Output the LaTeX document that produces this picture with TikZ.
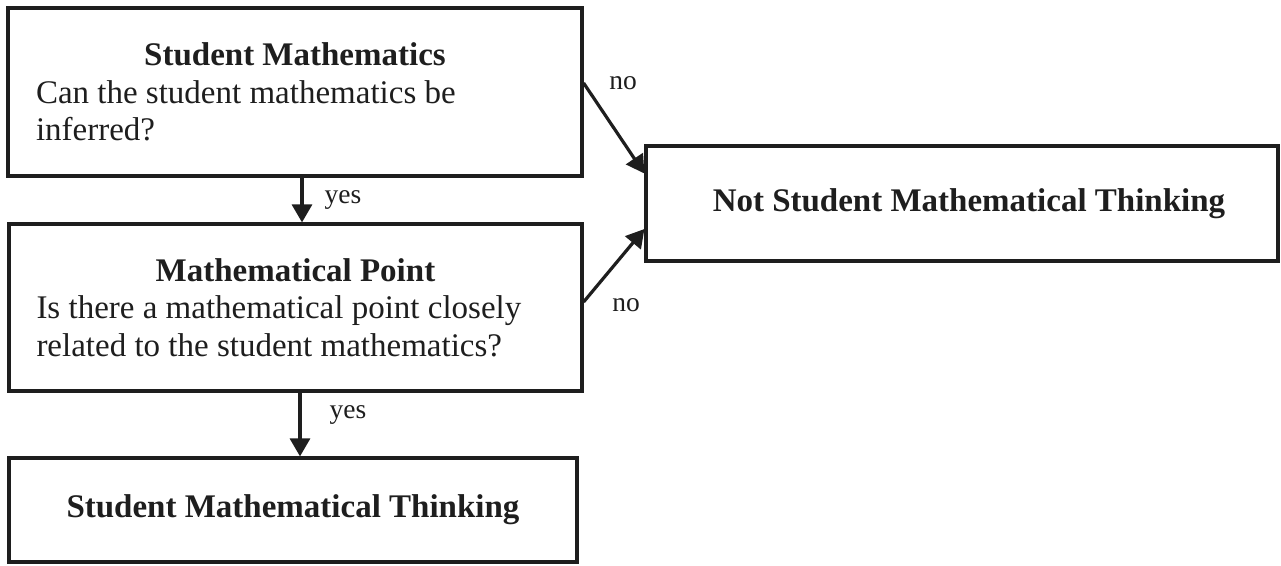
\documentclass[tikz,border=0pt]{standalone}
\usepackage{fontspec}
\setmainfont{Liberation Serif}
\usetikzlibrary{arrows.meta}
\definecolor{ink}{HTML}{1E1E1E}
\newcommand{\fixspc}{\spaceskip=0.25em\relax\xspaceskip=0.25em\relax}
\begin{document}
\begin{tikzpicture}[x=1pt,y=-1pt,
  box/.style={draw=ink, line width=3.2pt, inner sep=0pt, text=ink, font=\fontsize{33}{37.5}\selectfont},
  arr/.style={draw=ink, line width=3.2pt, -{Triangle[length=18pt,width=20pt]}},
  lbl/.style={text=ink, font=\fontsize{27.5}{30}\selectfont, inner sep=0pt}]
\useasboundingbox (0,0) rectangle (1281,565);
\node[box, minimum width=574pt, minimum height=168pt, text width=518pt, align=left] (sm) at (295,92)
  {\fixspc\makebox[\hsize][c]{\bfseries Student Mathematics}\\Can the student mathematics be\\inferred?};
\node[box, minimum width=573pt, minimum height=167pt, text width=518pt, align=left] (mp) at (295.5,307.5)
  {\fixspc\makebox[\hsize][c]{\bfseries Mathematical Point}\\Is there a mathematical point closely\\related to the student mathematics?};
\node[box, minimum width=568pt, minimum height=104pt, font=\fontsize{33}{37.5}\selectfont\bfseries] (smt) at (293,510)
  {Student Mathematical Thinking};
\node[box, minimum width=632pt, minimum height=115pt, font=\fontsize{33}{37.5}\selectfont\bfseries] (nmt) at (962,203.5)
  {\hspace*{14pt}Not Student Mathematical Thinking};
\draw[arr] ([xshift=7pt]sm.south) -- ([xshift=6.5pt]mp.north);
\draw[arr] ([xshift=4.5pt]mp.south) -- ([xshift=7pt]smt.north);
\draw[arr] ([yshift=9pt]sm.east) -- ([yshift=30pt]nmt.west);
\draw[arr] ([yshift=5.5pt]mp.east) -- ([yshift=-25.5pt]nmt.west);
\node[lbl] (y1) at (343,200) {yes};
\node[lbl] (y2) at (348,415) {yes};
\node[lbl] (n1) at (623,83) {no};
\node[lbl] (n2) at (626,305) {no};
\end{tikzpicture}
\end{document}
